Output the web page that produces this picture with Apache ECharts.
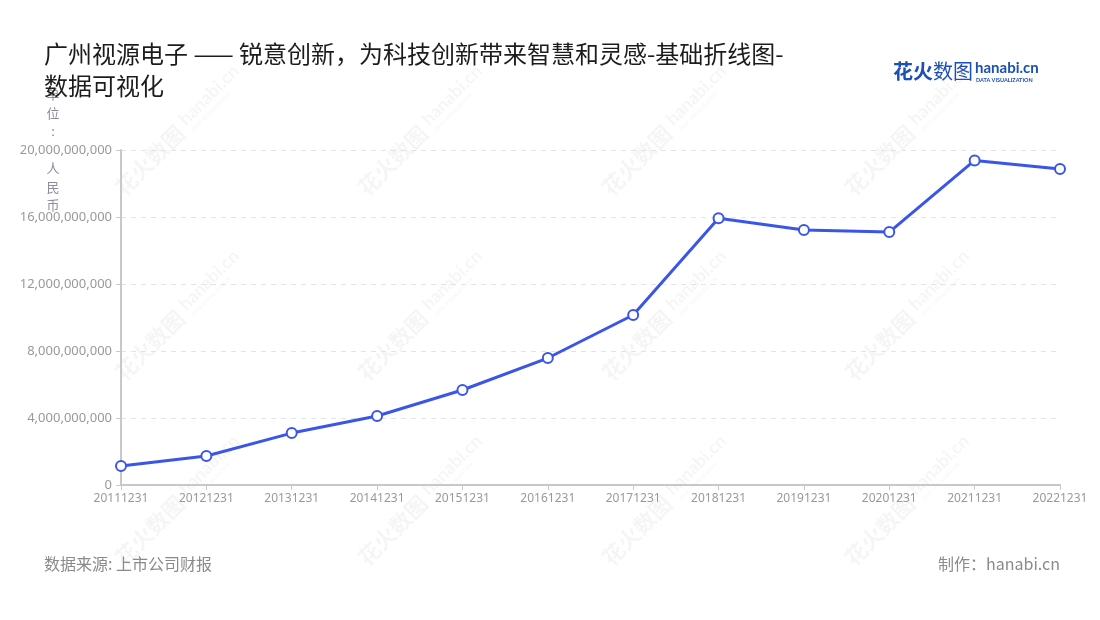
<!DOCTYPE html>
<html>
<head>
<meta charset="utf-8">
<script src="https://cdn.jsdelivr.net/npm/echarts@6/dist/echarts.min.js"></script>
<style>
  html, body { margin: 0; padding: 0; background: #fff; }
  #chart { width: 1100px; height: 620px; }
</style>
</head>
<body>
<div id="chart"></div>
<script>
const years = ["20111231", "20121231", "20131231", "20141231", "20151231", "20161231",
  "20171231", "20181231", "20191231", "20201231", "20211231", "20221231"];
const revenue = [1130000000, 1730000000, 3100000000, 4120000000, 5670000000, 7580000000,
  10150000000, 15920000000, 15220000000, 15100000000, 19380000000, 18860000000];
const yTicks = [0, 4000000000, 8000000000, 12000000000, 16000000000, 20000000000];

const font = '"Noto Sans CJK SC", "Noto Sans", sans-serif';
const labelFont = '"Noto Sans", "Noto Sans CJK SC", sans-serif';
const chart = echarts.init(document.getElementById("chart"));

// watermark tiles
const marks = [];
[185, 428, 672, 915].forEach((cx) => {
  [125, 310, 495].forEach((cy) => {
    marks.push({
      type: "group",
      x: cx, y: cy, rotation: Math.PI / 4, silent: true, z: -10,
      children: [
        { type: "text", x: -6, y: 0, style: { text: "花火数图", font: 'bold 22px ' + font, fill: "rgba(0,0,0,0.04)", align: "right", verticalAlign: "middle" } },
        { type: "text", x: 0, y: -4, style: { text: "hanabi.cn", font: 'bold 18px Lato, sans-serif', fill: "rgba(0,0,0,0.04)", align: "left", verticalAlign: "middle" } },
        { type: "text", x: 2, y: 9, style: { text: "DATA VISUALIZATION", font: 'bold 5px Lato, sans-serif', fill: "rgba(0,0,0,0.04)", align: "left", verticalAlign: "middle" } },
      ],
    });
  });
});

chart.setOption({
  backgroundColor: "#fff",
  textStyle: { fontFamily: font },
  title: {
    text: "广州视源电子 —— 锐意创新，为科技创新带来智慧和灵感-基础折线图-\n数据可视化",
    left: 44, top: 38, padding: 0,
    textStyle: { color: "#1c1c1c", fontSize: 24, fontWeight: "normal", lineHeight: 32, fontFamily: font },
  },
  graphic: [
    ...marks,
    // unit label, stacked vertically around the top of the y axis
    { type: "text", x: 53, y: 150, z: 5, style: { text: "单\n位\n:\n\n人\n民\n币", font: '13px ' + font, lineHeight: 18.5, fill: "#8c8c9c", align: "center", verticalAlign: "middle" } },
    { type: "text", left: 893, top: 61, style: { text: "花火", font: 'bold 20px ' + font, fill: "#1d4fb8" } },
    { type: "text", left: 933, top: 61, style: { text: "数图", font: 'normal 20px ' + font, fill: "#1d4fb8" } },
    { type: "text", left: 975, top: 61, style: { text: "hanabi.cn", font: 'bold 15px Lato, sans-serif', fill: "#1d4fb8" } },
    { type: "text", left: 976, top: 77, style: { text: "DATA VISUALIZATION", font: 'bold 5.5px Lato, sans-serif', fill: "#1d4fb8" } },
    { type: "text", left: 44, top: 556, style: { text: "数据来源: 上市公司财报", font: '16px ' + font, fill: "#8a8a8a" } },
    { type: "text", right: 40, top: 556, style: { text: "制作：hanabi.cn", font: '16px ' + font, fill: "#8a8a8a" } },
  ],
  grid: { left: 121, right: 40, top: 150, bottom: 135 },
  xAxis: {
    type: "category",
    data: years,
    boundaryGap: false,
    axisLine: { lineStyle: { color: "#c8c8c8", width: 2 } },
    axisTick: { lineStyle: { color: "#c8c8c8" }, length: 5 },
    axisLabel: { color: "#999", fontSize: 12, margin: 8, fontFamily: labelFont },
    splitLine: { show: false },
  },
  yAxis: {
    type: "value",
    min: 0, max: 20000000000, interval: 4000000000,
    axisLine: { show: true, lineStyle: { color: "#c8c8c8", width: 2 } },
    axisTick: { show: true, lineStyle: { color: "#c8c8c8" }, length: 5 },
    axisLabel: {
      color: "#999", fontSize: 13, margin: 9, fontFamily: labelFont,
      formatter: (v) => yTicks.includes(v) ? v.toLocaleString("en-US") : "",
    },
    splitLine: { lineStyle: { color: "#e3e3e3", type: [5, 5] } },
  },
  series: [{
    type: "line",
    data: revenue,
    symbol: "circle",
    symbolSize: 10,
    lineStyle: { color: "#3a56e8", width: 3 },
    itemStyle: { color: "#fff", borderColor: "#3a56e8", borderWidth: 2 },
  }],
});
</script>
</body>
</html>
